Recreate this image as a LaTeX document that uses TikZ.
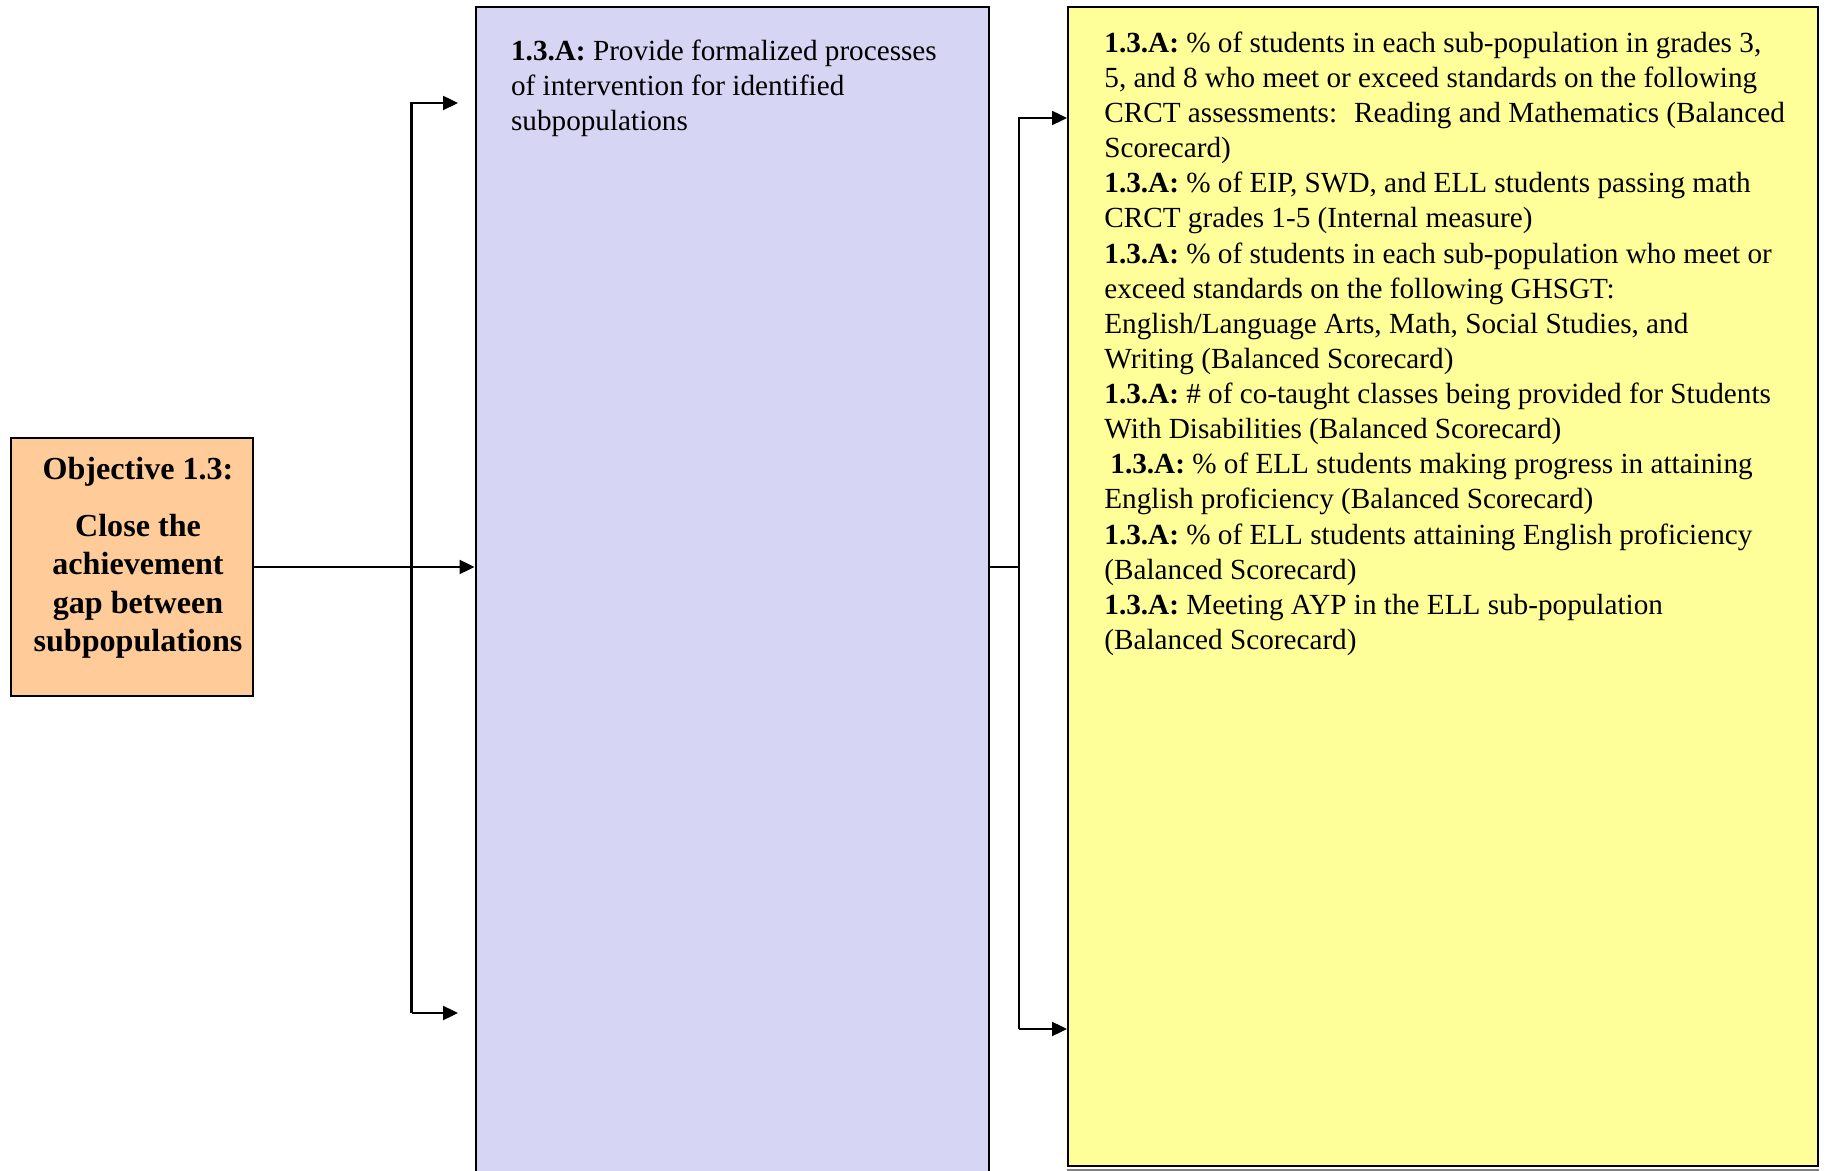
\documentclass[tikz,border=0pt]{standalone}
\usepackage{fontspec}
\setmainfont{Liberation Serif}
\usepackage{xcolor}
\usepackage{tikz}
\usetikzlibrary{calc,arrows.meta,positioning}
\definecolor{objorange}{HTML}{FFCC99}
\definecolor{stratblue}{HTML}{D6D6F4}
\definecolor{measyellow}{HTML}{FFFF99}

\begin{document}
\begin{tikzpicture}[x=0.5pt,y=-0.5pt]
	\tikzstyle{box}=[rectangle, draw, line width=1pt, inner sep=0pt, anchor=north west]
	\tikzstyle{txt}=[inner sep=0pt, align=left, anchor=north west, font=\fontsize{14.6}{17.56}\selectfont]
	\tikzstyle{objtxt}=[inner sep=0pt, align=center, anchor=north, font=\fontsize{16.05}{19.25}\selectfont\bfseries]
	\tikzstyle{conn}=[line width=1.2pt]
	\tikzstyle{arr}=[conn, -{Triangle[length=7.5pt,width=7pt]}]
	\useasboundingbox (0,0) rectangle (1828,1171);
	\clip (0,0) rectangle (1828,1171);
	\node[box, fill=objorange, minimum width=121pt, minimum height=129pt] (obj) at (10,437) {};
	\node[box, fill=stratblue, minimum width=256.5pt, minimum height=597pt] (strat) at (474.5,6) {};
	\node[box, fill=measyellow, minimum width=375pt, minimum height=579.5pt] (meas) at (1067,6) {};
	\draw[gray, line width=1pt] ([yshift=-1.5pt]meas.south west) -- ([yshift=-1.5pt]meas.south east);
	\node[objtxt] (objlbl) at (138,452) {\strut Objective 1.3:\\[9.25pt]
		Close the\\ achievement\\ gap between\\ subpopulations};
	\node[txt] (stratlbl) at (510.7,35.4) {\strut\textbf{1.3.A:} Provide formalized processes\\
		of intervention for identified\\
		subpopulations};
	\node[txt] (measlbl) at (1104,27.4) {\strut\textbf{1.3.A:} \% of students in each sub-population in grades 3,\\
		5, and 8 who meet or exceed standards on the following\\
		CRCT assessments:~ Reading and Mathematics (Balanced\\
		Scorecard)\\
		\textbf{1.3.A:} \% of EIP, SWD, and ELL students passing math\\
		CRCT grades 1-5 (Internal measure)\\
		\textbf{1.3.A:} \% of students in each sub-population who meet or\\
		exceed standards on the following GHSGT:\\
		English/Language Arts, Math, Social Studies, and\\
		Writing (Balanced Scorecard)\\
		\textbf{1.3.A:} \# of co-taught classes being provided for Students\\
		With Disabilities (Balanced Scorecard)\\
		\hspace*{3pt}\textbf{1.3.A:} \% of ELL students making progress in attaining\\
		English proficiency (Balanced Scorecard)\\
		\textbf{1.3.A:} \% of ELL students attaining English proficiency\\
		(Balanced Scorecard)\\
		\textbf{1.3.A:} Meeting AYP in the ELL sub-population\\
		(Balanced Scorecard)};
	\coordinate (lbusT) at (411.5,103);
	\coordinate (lbusB) at (411.5,1013);
	\coordinate (ltopend) at (458,103);
	\coordinate (lbotend) at (458,1013);
	\coordinate (rbusT) at (1019,118);
	\coordinate (rbusB) at (1019,1029);
	\draw[arr] (obj.east) -- (strat.west |- obj.east);
	\draw[arr] (lbusB) -- (lbusT) -- (ltopend);
	\draw[arr] (lbusB) -- (lbotend);
	\draw[conn] (strat.east |- obj.east) -- (rbusT |- obj.east);
	\draw[arr] (rbusB) -- (rbusT) -- (meas.west |- rbusT);
	\draw[arr] (rbusB) -- (meas.west |- rbusB);
\end{tikzpicture}
\end{document}
